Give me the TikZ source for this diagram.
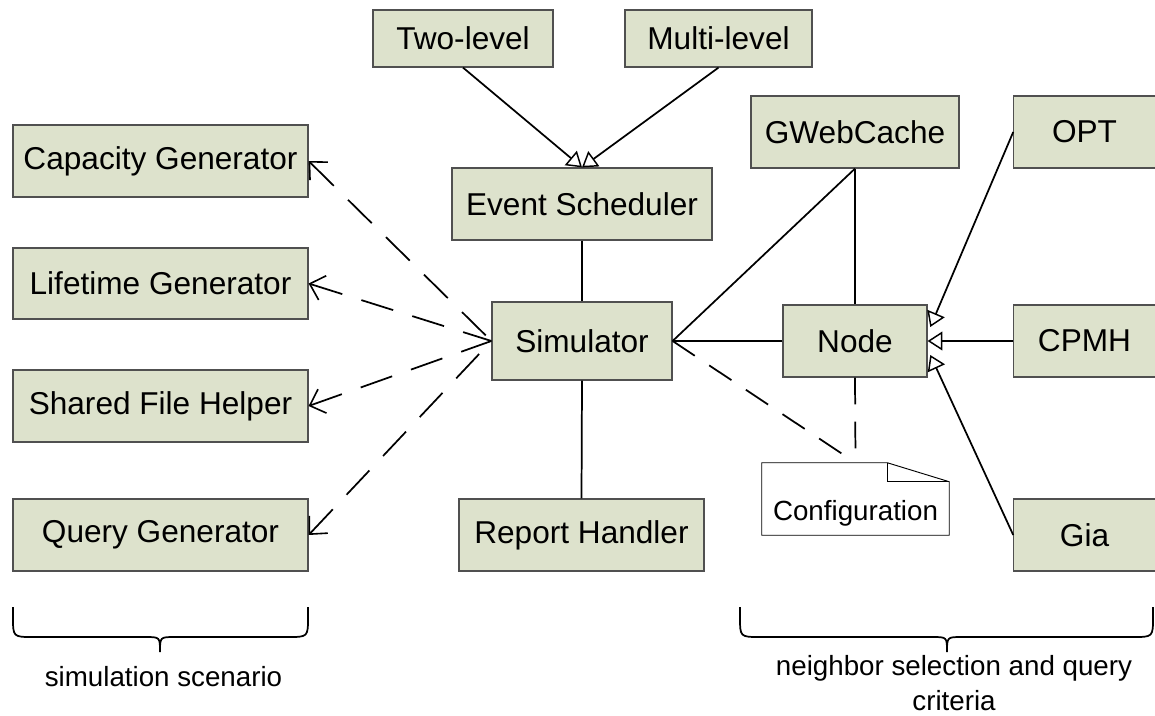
\documentclass[tikz,border=0pt]{standalone}
\usepackage{fontspec}
\setmainfont{Liberation Sans}
\usetikzlibrary{arrows.meta}
\definecolor{boxfill}{RGB}{221,226,204}
\definecolor{boxline}{RGB}{80,80,80}
\tikzset{
  cls/.style={draw=boxline, line width=0.9pt, fill=boxfill, inner sep=0pt,
    font=\fontsize{23.7}{28}\selectfont, minimum height=54pt},
  conn/.style={line width=1.3pt, black},
  dep/.style={conn, dash pattern=on 25pt off 15pt, {Straight Barb[length=10pt,width=19pt,line width=1.2pt]}-},
  gen/.style={conn, -{Triangle[open, length=11pt, width=14pt, fill=white, line width=1.1pt]}},
  dsh/.style={conn, dash pattern=on 20pt off 13pt},
  lbl/.style={font=\fontsize{20.8}{26.5}\selectfont, align=center, inner sep=0pt}
}
\begin{document}
\begin{tikzpicture}[x=0.75pt, y=-0.75pt]
\useasboundingbox (0,0) rectangle (1155,716);
% left column
\node[cls, minimum width=221.25pt] (cap) at (160.5,161) {Capacity Generator};
\node[cls, minimum width=221.25pt, minimum height=53.25pt] (life) at (160.5,283.5) {Lifetime Generator};
\node[cls, minimum width=221.25pt] (shared) at (160.5,406) {Shared File Helper};
\node[cls, minimum width=221.25pt] (query) at (160.5,535) {Query Generator};
% center column
\node[cls, minimum width=135pt, minimum height=42.75pt] (two) at (463,38.5) {Two-level};
\node[cls, minimum width=140.25pt, minimum height=42.75pt] (multi) at (718.5,38.5) {Multi-level};
\node[cls, minimum width=195pt] (event) at (582,204) {Event Scheduler};
\node[cls, minimum width=135pt, minimum height=58.5pt] (sim) at (582,341) {Simulator};
\node[cls, minimum width=183.75pt] (report) at (581.5,535) {Report Handler};
% right part
\node[cls, minimum width=156pt] (gweb) at (855,132) {GWebCache};
\node[cls, minimum width=108pt] (node) at (855,341) {Node};
\node[cls, minimum width=106pt] (opt) at (1084.5,132) {OPT};
\node[cls, minimum width=106pt] (cpmh) at (1084.5,341) {CPMH};
\node[cls, minimum width=106pt] (gia) at (1084.5,535) {Gia};
% configuration note
\node[lbl, minimum width=140.25pt, minimum height=54pt] (cfg) at (855.5,499) {};
\draw[line width=0.7pt, fill=white] (cfg.south west) -- (cfg.north west) -- ([xshift=-46.5pt]cfg.north east)
  -- ([yshift=-14.25pt]cfg.north east) -- (cfg.south east) -- cycle;
\draw[line width=0.7pt] ([xshift=-46.5pt]cfg.north east) |- ([yshift=-14.25pt]cfg.north east);
\node[lbl] (cfgtext) at ([yshift=-10.5pt]cfg.center) {Configuration};
% connectors
\draw[gen] (two.south) -- (event.north);
\draw[gen] (multi.south) -- (event.north);
\draw[conn] (event.south) -- (sim.north);
\draw[conn] (sim.south) -- (report.north);
\draw[conn] (sim.east) -- (gweb.south);
\draw[conn] (gweb.south) -- (node.north);
\draw[conn] (node.west) -- (sim.east);
\draw[dep] (cap.east) -- (sim.west);
\draw[dep] (life.east) -- (sim.west);
\draw[dep] (shared.east) -- (sim.west);
\draw[dep] (query.east) -- (sim.west);
\draw[dsh] (sim.east) -- (cfg.north);
\draw[dsh] (node.south) -- (cfg.north);
\draw[gen] (opt.west) -- ([yshift=10.5pt,xshift=2pt]node.east);
\draw[gen] (cpmh.west) -- (node.east);
\draw[gen] (gia.west) -- ([yshift=-10.5pt,xshift=2pt]node.east);
% braces
\draw[line width=1.3pt] (13,607) -- (13,617) .. controls (13,637) .. (33,637) -- (145,637)
  .. controls (160,637) .. (160,652) .. controls (160,637) .. (175,637) -- (288,637)
  .. controls (308,637) .. (308,617) -- (308,607);
\draw[line width=1.3pt] (740,607) -- (740,617) .. controls (740,637) .. (760,637) -- (932,637)
  .. controls (947,637) .. (947,652) .. controls (947,637) .. (962,637) -- (1133,637)
  .. controls (1153,637) .. (1153,617) -- (1153,607);
\node[lbl] (scen) at (163.5,677) {simulation scenario};
\node[lbl] (crit) at (954,683) {neighbor selection and query\\criteria};
\end{tikzpicture}
\end{document}
